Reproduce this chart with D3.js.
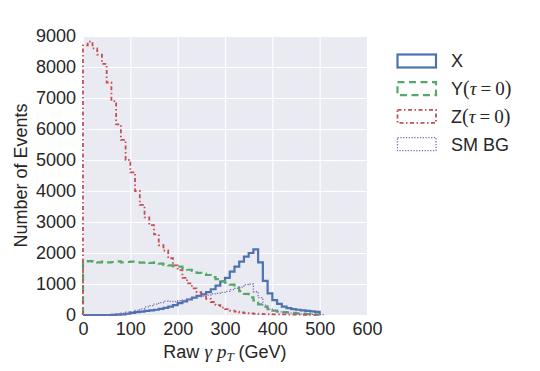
<!DOCTYPE html>
<html><head><meta charset="utf-8">
<script src="https://cdn.jsdelivr.net/npm/d3@7"></script>
<style>body{margin:0;background:#fff}svg{display:block}</style>
</head><body><svg id="c" width="540" height="371"></svg>
<script>
const binWidth = 10; // GeV
const seriesNames = ["X", "Y", "Z", "SM BG"];
const xVals = [0,0,0,0,0,0,5,10,20,40,70,90,110,130,150,170,200,230,270,320,380,440,500,560,620,670,740,830,950,1080,1200,1400,1560,1720,1880,2000,2120,1700,1100,700,480,360,270,220,190,170,150,130,115,100];
const yVals = [1720,1740,1710,1700,1720,1700,1710,1730,1700,1710,1720,1700,1690,1700,1680,1700,1660,1620,1600,1570,1560,1510,1460,1420,1360,1330,1290,1220,1160,1090,1040,980,880,770,680,570,470,340,260,190,140,110,95,85,70,55,45,30,20,10];
const zVals = [8700,8820,8600,8400,8100,7500,6900,6150,5650,5000,4600,4000,3550,3150,2900,2600,2250,2080,1830,1600,1450,1200,1020,860,740,660,520,420,320,240,190,140,110,80,60,50,40,35,30,25,22,20,18,15,12,10,8,6,5,4];
const smVals = [0,0,0,0,0,10,20,40,60,90,110,150,200,260,300,350,400,450,440,430,460,480,510,550,590,610,640,680,700,730,760,820,860,900,980,1000,750,560,320,190,130,100,80,60,50,40,35,30,25,20,10];
const xTicks = [0,100,200,300,400,500,600];
const yTicks = [0,1000,2000,3000,4000,5000,6000,7000,8000,9000];

const series = [
  {name:"X", vals:xVals, color:"#4c72b0", width:2.2, dash:null},
  {name:"Y", vals:yVals, color:"#55a868", width:2.2, dash:"7,4.5"},
  {name:"Z", vals:zVals, color:"#c44e52", width:1.8, dash:"4,2.5,1.5,2.5"},
  {name:"SM BG", vals:smVals, color:"#8172b2", width:1.3, dash:"1.3,1.5"}
];

const svg = d3.select("#c");
const L=83, R=367, T=36, B=315;
const x = d3.scaleLinear().domain([0,600]).range([L,R]);
const y = d3.scaleLinear().domain([0,9000]).range([B,T]);
const tc = "#262626";
const font = "'Liberation Sans', Arial, sans-serif";
const fs = 18;

svg.append("rect").attr("x",L).attr("y",T).attr("width",R-L).attr("height",B-T).attr("fill","#eaeaf2");

const gx = svg.append("g").attr("transform",`translate(0,${B})`)
  .call(d3.axisBottom(x).tickValues(xTicks).tickFormat(d3.format("d")).tickSize(-(B-T)).tickPadding(7));
const gy = svg.append("g").attr("transform",`translate(${L},0)`)
  .call(d3.axisLeft(y).tickValues(yTicks).tickFormat(d3.format("d")).tickSize(-(R-L)).tickPadding(7));
[gx,gy].forEach(g=>{
  g.select(".domain").remove();
  g.selectAll(".tick line").attr("stroke","#fff").attr("stroke-width",1.1);
  g.selectAll(".tick text").attr("fill",tc).attr("font-family",font).attr("font-size",fs);
});

svg.append("clipPath").attr("id","pc").append("rect")
  .attr("x",L-2).attr("y",T-2).attr("width",R-L+4).attr("height",B-T+3);

const line = d3.line().x(d=>x(d[0])).y(d=>y(d[1]));
series.forEach(s=>{
  const pts=[[0,0]];
  s.vals.forEach((v,i)=>{pts.push([i*binWidth,v]);pts.push([(i+1)*binWidth,v]);});
  pts.push([s.vals.length*binWidth,0]);
  svg.append("path").attr("d",line(pts)).attr("fill","none")
    .attr("stroke",s.color).attr("stroke-width",s.width)
    .attr("stroke-dasharray",s.dash).attr("stroke-linejoin","miter")
    .attr("clip-path","url(#pc)");
});

// legend
const lg = svg.append("g");
const serif = "'Liberation Serif','DejaVu Serif',serif";
series.forEach((s,i)=>{
  const cy = 61 + i*27.7;
  lg.append("rect").attr("x",397.5).attr("y",cy-6.5).attr("width",38.5).attr("height",13)
    .attr("fill","none").attr("stroke",s.color).attr("stroke-width",s.width)
    .attr("stroke-dasharray",s.dash);
  const t = lg.append("text").attr("x",451).attr("y",cy+6.4).attr("fill",tc)
    .attr("font-family",font).attr("font-size",fs);
  if(s.name==="Y"||s.name==="Z"){
    t.append("tspan").text(s.name);
    t.append("tspan").attr("font-family",serif).attr("font-size",20).text("(");
    t.append("tspan").attr("font-family",serif).attr("font-style","italic").attr("font-size",19).text("τ");
    t.append("tspan").attr("font-family",serif).attr("font-size",19).attr("dx",4).text("=");
    t.append("tspan").attr("font-family",serif).attr("font-size",19).attr("dx",4).text("0");
    t.append("tspan").attr("font-family",serif).attr("font-size",20).text(")");
  } else t.text(s.name);
});

// axis labels
const xl = svg.append("text").attr("x",(L+R)/2).attr("y",358).attr("text-anchor","middle")
  .attr("fill",tc).attr("font-family",font).attr("font-size",fs);
xl.append("tspan").text("Raw ");
xl.append("tspan").attr("font-family",serif).attr("font-style","italic").attr("font-size",19).text("γ");
xl.append("tspan").attr("font-family",serif).attr("font-style","italic").attr("font-size",19).attr("dx",5).text("p");
xl.append("tspan").attr("font-family",serif).attr("font-style","italic").attr("font-size",13).attr("dy",3).text("T");
xl.append("tspan").attr("dy",-3).text(" (GeV)");

svg.append("text").attr("transform",`translate(27,${(T+B)/2}) rotate(-90)`).attr("text-anchor","middle")
  .attr("fill",tc).attr("font-family",font).attr("font-size",fs).text("Number of Events");
</script></body></html>
